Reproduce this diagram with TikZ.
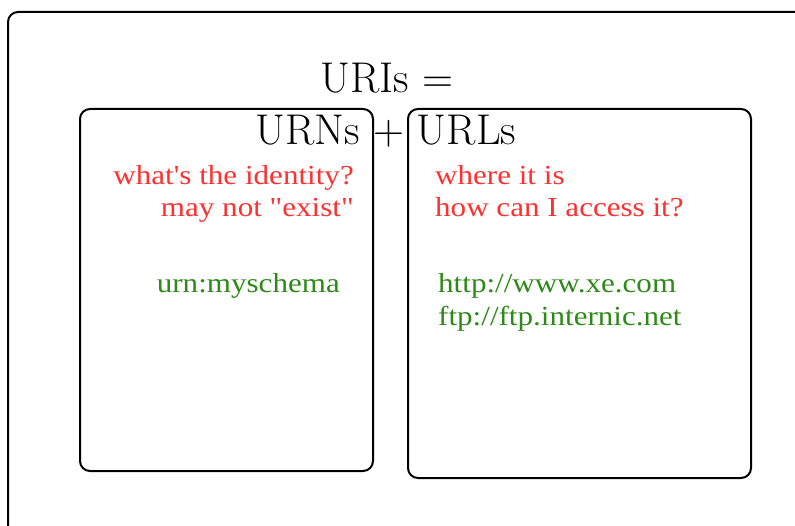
\documentclass[tikz,border=0pt]{standalone}
\usepackage{fontspec}
\setmainfont{Latin Modern Roman}
\newfontfamily\notefont[FakeStretch=1.13]{Liberation Serif}
\definecolor{qred}{RGB}{255,48,48}
\definecolor{qgreen}{RGB}{46,138,24}
\tikzset{
  panel/.style={draw=black, line width=2pt, rounded corners=10pt},
  headline/.style={font=\fontsize{43}{52}\selectfont, inner sep=0pt},
  question/.style={text=qred, font=\notefont\fontsize{27.5}{32}\selectfont, inner sep=0pt},
  example/.style={text=qgreen, font=\notefont\fontsize{27.5}{33}\selectfont, inner sep=0pt}
}
\begin{document}
\begin{tikzpicture}[x=1pt, y=-1pt]
  \useasboundingbox (0,0) rectangle (795,526);
  \begin{scope}
    \clip (0,0) rectangle (795,526);
    % outer frame, running past the right and bottom edges
    \draw[panel] (8,12) rectangle (812,540);
  \end{scope}
  % the two category boxes
  \node[panel, anchor=north west, minimum width=293pt, minimum height=362pt] (urnbox) at (79,108) {};
  \node[panel, anchor=north west, minimum width=343pt, minimum height=369pt] (urlbox) at (407,108) {};
  % heading
  \node[headline, anchor=base] (title1) at (387,93) {URIs =};
  \node[headline, anchor=base] (title2) at (386,145) {URNs + URLs};
  % URN side
  \node[question, anchor=base east] (urnq1) at (354,185) {what's the identity?};
  \node[question, anchor=base east] (urnq2) at (354,217) {may not "exist"};
  \node[example, anchor=base east] (urnex) at (340,293) {urn:myschema};
  % URL side
  \node[question, anchor=base west] (urlq1) at (435,185) {where it is};
  \node[question, anchor=base west] (urlq2) at (435,217) {how can I access it?};
  \node[example, anchor=base west] (urlex1) at (438,293) {http://www.xe.com};
  \node[example, anchor=base west] (urlex2) at (438,326) {ftp://ftp.internic.net};
\end{tikzpicture}
\end{document}
